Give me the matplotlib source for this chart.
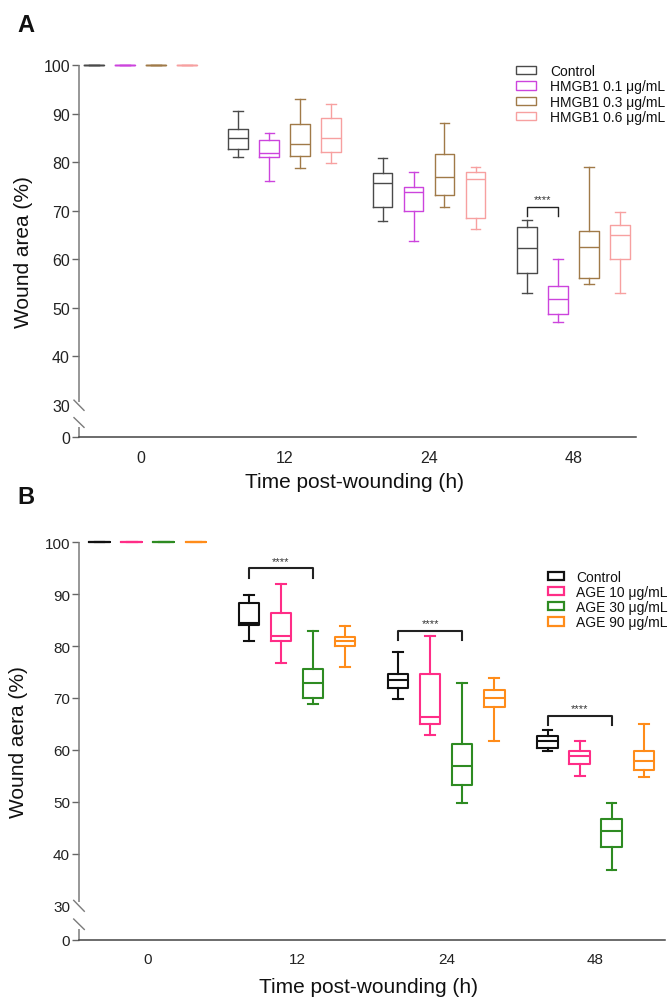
import numpy as np
import matplotlib
matplotlib.use("Agg")
import matplotlib.pyplot as plt
from matplotlib.patches import Patch
from matplotlib import font_manager

_avail = {f.name for f in font_manager.fontManager.ttflist}
def pick(*names):
    for n in names:
        if n in _avail:
            return n
    return "DejaVu Sans"

FONT = pick("Liberation Sans", "Arimo", "DejaVu Sans")
NARROW = pick("Liberation Sans Narrow", "Liberation Sans", "DejaVu Sans")
plt.rcParams["font.family"] = [FONT, "DejaVu Sans"]

# ---------------- data ----------------
time_labels = ["0", "12", "24", "48"]

# Panel A (HMGB1)
a_groups = ["Control", "HMGB1 0.1 μg/mL", "HMGB1 0.3 μg/mL", "HMGB1 0.6 μg/mL"]
a_lo  = [[100, 81.0, 67.9, 53.0], [100, 76.1, 63.8, 47.0], [100, 78.8, 70.8, 55.0], [100, 79.9, 66.2, 53.0]]
a_q1  = [[100, 82.8, 70.8, 57.1], [100, 81.1, 70.0, 48.7], [100, 81.3, 73.3, 56.2], [100, 82.0, 68.6, 60.1]]
a_med = [[100, 85.0, 75.8, 62.3], [100, 81.8, 73.9, 51.8], [100, 83.8, 77.0, 62.5], [100, 85.0, 76.5, 64.9]]
a_q3  = [[100, 86.9, 77.8, 66.6], [100, 84.6, 74.8, 54.6], [100, 87.9, 81.6, 65.9], [100, 89.0, 78.0, 67.1]]
a_hi  = [[100, 90.5, 80.8, 68.0], [100, 86.0, 77.9, 60.1], [100, 92.9, 88.0, 79.0], [100, 92.0, 79.0, 69.7]]
a_colors = ["#4a4a4a", "#cc44dd", "#a07a48", "#f7a0a0"]
# significance: (time index, group i, group j, bracket top value)
a_sig = [(3, 0, 1, 70.8)]

# Panel B (AGE)
b_groups = ["Control", "AGE 10 μg/mL", "AGE 30 μg/mL", "AGE 90 μg/mL"]
b_lo  = [[100, 80.9, 69.8, 59.8], [100, 76.8, 62.9, 54.9], [100, 68.9, 49.8, 36.8], [100, 75.9, 61.8, 54.8]]
b_q1  = [[100, 84.0, 72.0, 60.3], [100, 81.0, 65.0, 57.3], [100, 70.0, 53.2, 41.3], [100, 80.1, 68.3, 56.2]]
b_med = [[100, 84.5, 73.4, 61.8], [100, 81.9, 66.3, 58.9], [100, 72.8, 56.9, 44.4], [100, 80.9, 70.0, 57.9]]
b_q3  = [[100, 88.3, 74.7, 62.7], [100, 86.3, 74.7, 59.7], [100, 75.5, 61.2, 46.7], [100, 81.7, 71.5, 59.7]]
b_hi  = [[100, 89.9, 78.8, 63.8], [100, 91.9, 81.9, 61.8], [100, 82.9, 72.8, 49.8], [100, 83.9, 73.8, 64.9]]
b_colors = ["#111111", "#ff2d87", "#2e8b22", "#ff8c1a"]
b_sig = [(1, 0, 2, 95.0), (2, 0, 2, 83.0), (3, 0, 2, 66.5)]

yticks_vals = [30, 40, 50, 60, 70, 80, 90, 100]

W, H = 671, 1003
fig = plt.figure(figsize=(W / 100, H / 100), dpi=100)


def fx(px):
    return px / W


def fy(py):
    return 1 - py / H


def panel(rect, groups, colors, lo, q1, med, q3, hi, sig, y0, xlim, lw,
          tick_fs, tick_font, ylabel, ylabel_x, xlabel_y, sig_lw, leg_kw):
    ax = fig.add_axes(rect)
    offsets = [-0.322, -0.107, 0.107, 0.322]
    width = 0.136
    x = np.arange(len(time_labels))
    for g in range(len(groups)):
        stats = []
        for t in range(len(time_labels)):
            stats.append(dict(whislo=lo[g][t], q1=q1[g][t], med=med[g][t],
                              q3=q3[g][t], whishi=hi[g][t], fliers=[]))
        c = colors[g]
        art = ax.bxp(stats, positions=x + offsets[g], widths=width,
                     capwidths=0.066, showfliers=False, manage_ticks=False,
                     boxprops=dict(color=c, lw=lw),
                     whiskerprops=dict(color=c, lw=lw),
                     capprops=dict(color=c, lw=lw),
                     medianprops=dict(color=c, lw=lw))
        for k in art:
            for a in art[k]:
                a.set_clip_on(False)
    ax.set_xlim(*xlim)
    ax.set_ylim(y0, 100)
    ax.set_xticks(x)
    ax.set_xticklabels(time_labels, fontsize=tick_fs, family=tick_font,
                       color="#222222")
    ax.tick_params(axis="x", length=0, pad=9)
    ticks = [y0] + yticks_vals
    ax.set_yticks(ticks)
    ax.set_yticklabels(["0"] + [str(v) for v in yticks_vals],
                       fontsize=tick_fs, family=tick_font, color="#222222")
    ax.tick_params(axis="y", length=5, width=1.0, color="#666666", pad=1.5)
    # hide tick mark at 30 (axis break there)
    ax.yaxis.get_major_ticks()[1].tick1line.set_visible(False)
    for s in ["top", "right", "left"]:
        ax.spines[s].set_visible(False)
    ax.spines["bottom"].set_color("#444444")
    ax.spines["bottom"].set_linewidth(1.1)
    # broken left axis
    tr = ax.get_yaxis_transform()
    axis_col = "#7a7a7a"
    ax.plot([0, 0], [100, 30.6], transform=tr, color=axis_col, lw=1.1,
            clip_on=False, solid_capstyle="butt")
    ax.plot([0, 0], [25.5, y0], transform=tr, color=axis_col, lw=1.1,
            clip_on=False, solid_capstyle="butt")
    d = 0.009
    ax.plot([-d, d], [31.0, 28.9], transform=tr, color=axis_col, lw=1.0,
            clip_on=False)
    ax.plot([-d, d], [27.4, 25.4], transform=tr, color=axis_col, lw=1.0,
            clip_on=False)
    # significance brackets
    for (t, i, j, top) in sig:
        xa = t + offsets[i]
        xb = t + offsets[j]
        ax.plot([xa, xa, xb, xb], [top - 1.8, top, top, top - 1.8],
                color="#222222", lw=sig_lw, clip_on=False)
        ax.text((xa + xb) / 2, top + 0.5, "****", ha="center", va="bottom",
                fontsize=8, color="#333333")
    fig.text(ylabel_x, rect[1] + rect[3] / 2, ylabel, rotation=90,
             ha="center", va="center", fontsize=15, color="#111111")
    fig.text(rect[0] + rect[2] / 2 - 0.005, xlabel_y, "Time post-wounding (h)",
             ha="center", va="center", fontsize=15, color="#111111")
    handles = [Patch(facecolor="white", edgecolor=c, lw=leg_kw["plw"])
               for c in colors]
    leg = fig.legend(handles, groups, loc="upper left",
                     bbox_to_anchor=leg_kw["anchor"],
                     bbox_transform=fig.transFigure, frameon=False,
                     prop=dict(family=leg_kw["font"], size=leg_kw["fs"]),
                     handlelength=leg_kw["hl"], handleheight=0.55,
                     handletextpad=leg_kw["htp"], labelspacing=leg_kw["ls"],
                     borderpad=0, borderaxespad=0)
    for txt in leg.get_texts():
        txt.set_color("#111111")
    return ax


# Panel A
rectA = [fx(79), fy(438.3), fx(636.3 - 79), (438.3 - 66) / H]
panel(rectA, a_groups, a_colors, a_lo, a_q1, a_med, a_q3, a_hi, a_sig,
      y0=23.35, xlim=(-0.4255, 3.436), lw=1.0, tick_fs=11.5, tick_font=FONT,
      ylabel="Wound area (%)", ylabel_x=fx(24), xlabel_y=fy(483), sig_lw=1.0,
      leg_kw=dict(anchor=(fx(516), fy(65)), fs=10, font=FONT, hl=1.45,
                  htp=1.0, ls=0.1, plw=1.0))

# Panel B
rectB = [fx(79), fy(940.7), fx(665.4 - 79), (940.7 - 543.3) / H]
panel(rectB, b_groups, b_colors, b_lo, b_q1, b_med, b_q3, b_hi, b_sig,
      y0=23.42, xlim=(-0.4595, 3.4675), lw=1.5, tick_fs=11, tick_font=NARROW,
      ylabel="Wound aera (%)", ylabel_x=fx(19), xlabel_y=fy(988), sig_lw=1.5,
      leg_kw=dict(anchor=(fx(547.5), fy(571)), fs=10, font=NARROW, hl=1.2,
                  htp=0.85, ls=0.08, plw=1.6))

fig.text(fx(17), fy(25), "A", fontsize=17, fontweight="bold", ha="left",
         va="center", color="#111111")
fig.text(fx(17), fy(498), "B", fontsize=17, fontweight="bold", ha="left",
         va="center", color="#111111")

fig.savefig("out.png", dpi=100)
